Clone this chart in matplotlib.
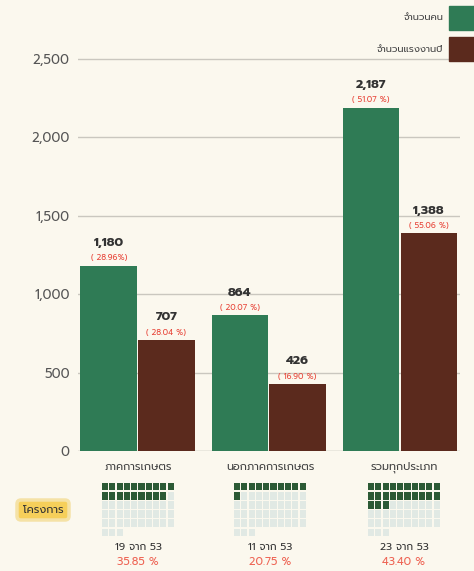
import matplotlib
matplotlib.use('Agg')
import matplotlib.pyplot as plt
from matplotlib import font_manager
from matplotlib.patches import Rectangle, FancyBboxPatch
import numpy as np

# data
categories = ['ภาคการเกษตร', 'นอกภาคการเกษตร', 'รวมทุกประเภท']
series_names = ['จำนวนคน', 'จำนวนแรงงานปี']
people = [1180, 864, 2187]
workers = [707, 426, 1388]
people_pct = ['( 28.96%)', '( 20.07 %)', '( 51.07 %)']
workers_pct = ['( 28.04 %)', '( 16.90 %)', '( 55.06 %)']
projects = [19, 11, 23]
projects_total = 53
projects_pct = ['35.85 %', '20.75 %', '43.40 %']
yticks = [0, 500, 1000, 1500, 2000, 2500]
ytick_labels = ['0', '500', '1,000', '1,500', '2,000', '2,500']

# pick a Thai font that is installed
names = {f.name for f in font_manager.fontManager.ttflist}
thai = next((n for n in ['Prompt', 'Kanit', 'Noto Sans Thai', 'Sarabun'] if n in names), 'DejaVu Sans')
plt.rcParams['font.family'] = [thai, 'DejaVu Sans']

bg = '#fbf8ee'
green = '#2f7b55'
brown = '#5b2a1d'
red = '#e8463a'

fig = plt.figure(figsize=(4.74, 5.71), dpi=100, facecolor=bg)
W, H = 474, 571

# main bar chart
ax = fig.add_axes([78 / W, (H - 451) / H, (460 - 78) / W, (451 - 43) / H])
ax.set_facecolor(bg)
x = np.arange(len(categories))
bw = 0.43
b1 = ax.bar(x - bw / 2 - 0.005, people, bw, color=green, zorder=3)
b2 = ax.bar(x + bw / 2 + 0.005, workers, bw, color=brown, zorder=3)
ax.set_xlim(-0.454, 2.458)
ax.set_ylim(0, 2600)
ax.set_yticks(yticks)
ax.set_yticklabels(ytick_labels, color='#555555', fontsize=9.5)
ax.set_xticks([])
ax.tick_params(axis='y', length=0, pad=6)
for s in ax.spines.values():
    s.set_visible(False)
for t in yticks:
    ax.axhline(t, color='#cac7bf' if t else '#a9a7a0', lw=1, zorder=1)

for bars, vals, pcts in [(b1, people, people_pct), (b2, workers, workers_pct)]:
    for b, v, p in zip(bars, vals, pcts):
        cx = b.get_x() + b.get_width() / 2
        ax.annotate(f'{v:,}', (cx, v), xytext=(0, 12), textcoords='offset points',
                    ha='center', va='bottom', fontsize=9, fontweight='bold', color='#333333')
        ax.annotate(p, (cx, v), xytext=(0, 2.5), textcoords='offset points',
                    ha='center', va='bottom', fontsize=5.8, color=red)

# overlay in pixel coordinates for legend, labels and waffles
ov = fig.add_axes([0, 0, 1, 1])
ov.set_xlim(0, W)
ov.set_ylim(H, 0)
ov.axis('off')
ov.patch.set_alpha(0)

# legend
for i, (name, col) in enumerate(zip(series_names, [green, brown])):
    y0 = 6 + i * 31
    ov.add_patch(Rectangle((449, y0), 25, 24, color=col))
    ov.text(443, y0 + 12, name, ha='right', va='center', fontsize=7, color='#444444')

# category labels and waffles
centers = [138, 270, 404]
cw, ch = 7.3, 9.2
for c, name, n, p in zip(centers, categories, projects, projects_pct):
    ov.text(c, 467, name, ha='center', va='center', fontsize=8, color='#444444')
    left = c - 5 * cw
    for k in range(projects_total):
        r, col = divmod(k, 10)
        fc = '#2c5a35' if k < n else '#e1e9e4'
        ov.add_patch(Rectangle((left + col * cw + 0.5, 482 + r * ch + 0.5), cw - 1.2, ch - 1.4,
                               color=fc, lw=0))
    ov.text(c, 548, f'{n} จาก {projects_total}', ha='center', va='center', fontsize=7.5, color='#333333')
    ov.text(c, 562, p, ha='center', va='center', fontsize=8, color='#ee6555')

# project label box
ov.add_patch(FancyBboxPatch((17, 500), 52, 20, boxstyle='round,pad=0,rounding_size=4',
                            fc='#f6cf5a', ec='#f5e2a6', lw=2.5))
ov.text(43, 510, 'โครงการ', ha='center', va='center', fontsize=8, color='#333333')

fig.savefig('out.png', dpi=100, facecolor=bg)
